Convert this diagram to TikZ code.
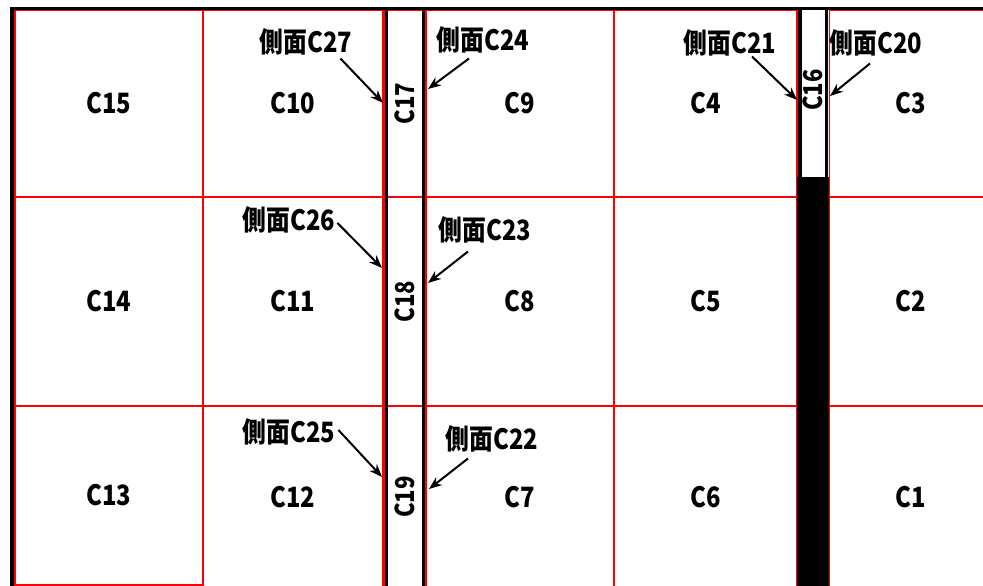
\documentclass[tikz,border=0pt]{standalone}
\usepackage{fontspec}
\setmainfont{Noto Sans CJK JP}[FakeStretch=0.85]
\usetikzlibrary{arrows.meta}

\begin{document}
\begin{tikzpicture}[
  x=1pt, y=-1pt,
  cell/.style={draw=red, line width=1.7pt, inner sep=0pt,
    font=\fontsize{28}{28}\selectfont\bfseries},
  strip/.style={draw=red, line width=1.7pt, inner sep=0pt, rotate=90,
    minimum height=42pt, font=\fontsize{26}{26}\selectfont\bfseries},
  side/.style={inner sep=0pt, font=\fontsize{28}{28}\selectfont\bfseries},
  wall/.style={line width=3.6pt, black},
  arr/.style={-{Stealth[length=13pt,width=10pt]}, line width=2pt}
]
\useasboundingbox (0,0) rectangle (983,586);

% ---- column A ----
\node[cell, minimum width=188, minimum height=187] (c15) at (109,103.5) {C15};
\node[cell, minimum width=188, minimum height=209] (c14) at (109,301.5) {C14};
\node[cell, minimum width=188, minimum height=179] (c13) at (109,495.5) {C13};

% ---- column B ----
\node[cell, minimum width=180, minimum height=187] (c10) at (293,103.5) {C10};
\node[cell, minimum width=180, minimum height=209] (c11) at (293,301.5) {C11};
\node[cell, minimum width=180, minimum height=182] (c12) at (293,497) {C12};

% ---- strip C17 / C18 / C19 ----
\node[strip, minimum width=187] (c17) at (405,103.5) {C17};
\node[strip, minimum width=209] (c18) at (405,301.5) {C18};
\node[strip, minimum width=182] (c19) at (405,497) {C19};

% ---- column C ----
\node[cell, minimum width=188, minimum height=187] (c9) at (520,103.5) {C9};
\node[cell, minimum width=188, minimum height=209] (c8) at (520,301.5) {C8};
\node[cell, minimum width=188, minimum height=182] (c7) at (520,497) {C7};

% ---- column D ----
\node[cell, minimum width=183, minimum height=187] (c4) at (705.5,103.5) {C4};
\node[cell, minimum width=183, minimum height=209] (c5) at (705.5,301.5) {C5};
\node[cell, minimum width=183, minimum height=182] (c6) at (705.5,497) {C6};

% ---- strip C16 ----
\node[strip, draw=none, minimum width=167, minimum height=27] (c16) at (813,90) {C16};
\fill[black] (797,177) rectangle (829,590);

% ---- column E ----
\node[cell, minimum width=162, minimum height=187] (c3) at (910.5,103.5) {C3};
\node[cell, minimum width=162, minimum height=209] (c2) at (910.5,301.5) {C2};
\node[cell, minimum width=162, minimum height=182] (c1) at (910.5,497) {C1};

% Black walls
\draw[wall] (10,8.6) -- (990,8.6);
\draw[wall] (11.8,7) -- (11.8,590);
\draw[wall] (386.5,7) -- (386.5,590);
\draw[wall] (423.5,7) -- (423.5,590);
\draw[wall] (800,7) -- (800,590);
\draw[wall] (826.5,7) -- (826.5,590);

% Side labels
\node[side] (s27) at (306,42) {側面C27};
\node[side] (s24) at (483,40) {側面C24};
\node[side] (s21) at (730,43) {側面C21};
\node[side] (s20) at (876,43) {側面C20};
\node[side] (s26) at (289,220) {側面C26};
\node[side] (s23) at (485,230) {側面C23};
\node[side] (s25) at (289,432) {側面C25};
\node[side] (s22) at (492,439) {側面C22};

\coordinate (h27) at (383,103);
\coordinate (h24) at (428,89);
\coordinate (h21) at (797,100);
\coordinate (h20) at (830,96);
\coordinate (h26) at (382,268);
\coordinate (h23) at (428,283);
\coordinate (h25) at (382,477);
\coordinate (h22) at (429,489);

% Arrows
\draw[arr] ([xshift=-12pt,yshift=-3pt]s27.south east) -- (h27);
\draw[arr] ([xshift=-14pt,yshift=-5pt]s24.south) -- (h24);
\draw[arr] ([xshift=22pt]s21.south) -- (h21);
\draw[arr] ([xshift=-6pt,yshift=-7pt]s20.south) -- (h20);
\draw[arr] ([xshift=2pt,yshift=-3pt]s26.east) -- (h26);
\draw[arr] ([xshift=-17pt,yshift=-8pt]s23.south) -- (h23);
\draw[arr] ([xshift=3pt,yshift=2pt]s25.east) -- (h25);
\draw[arr] ([xshift=-24pt,yshift=-6pt]s22.south) -- (h22);
\end{tikzpicture}
\end{document}
